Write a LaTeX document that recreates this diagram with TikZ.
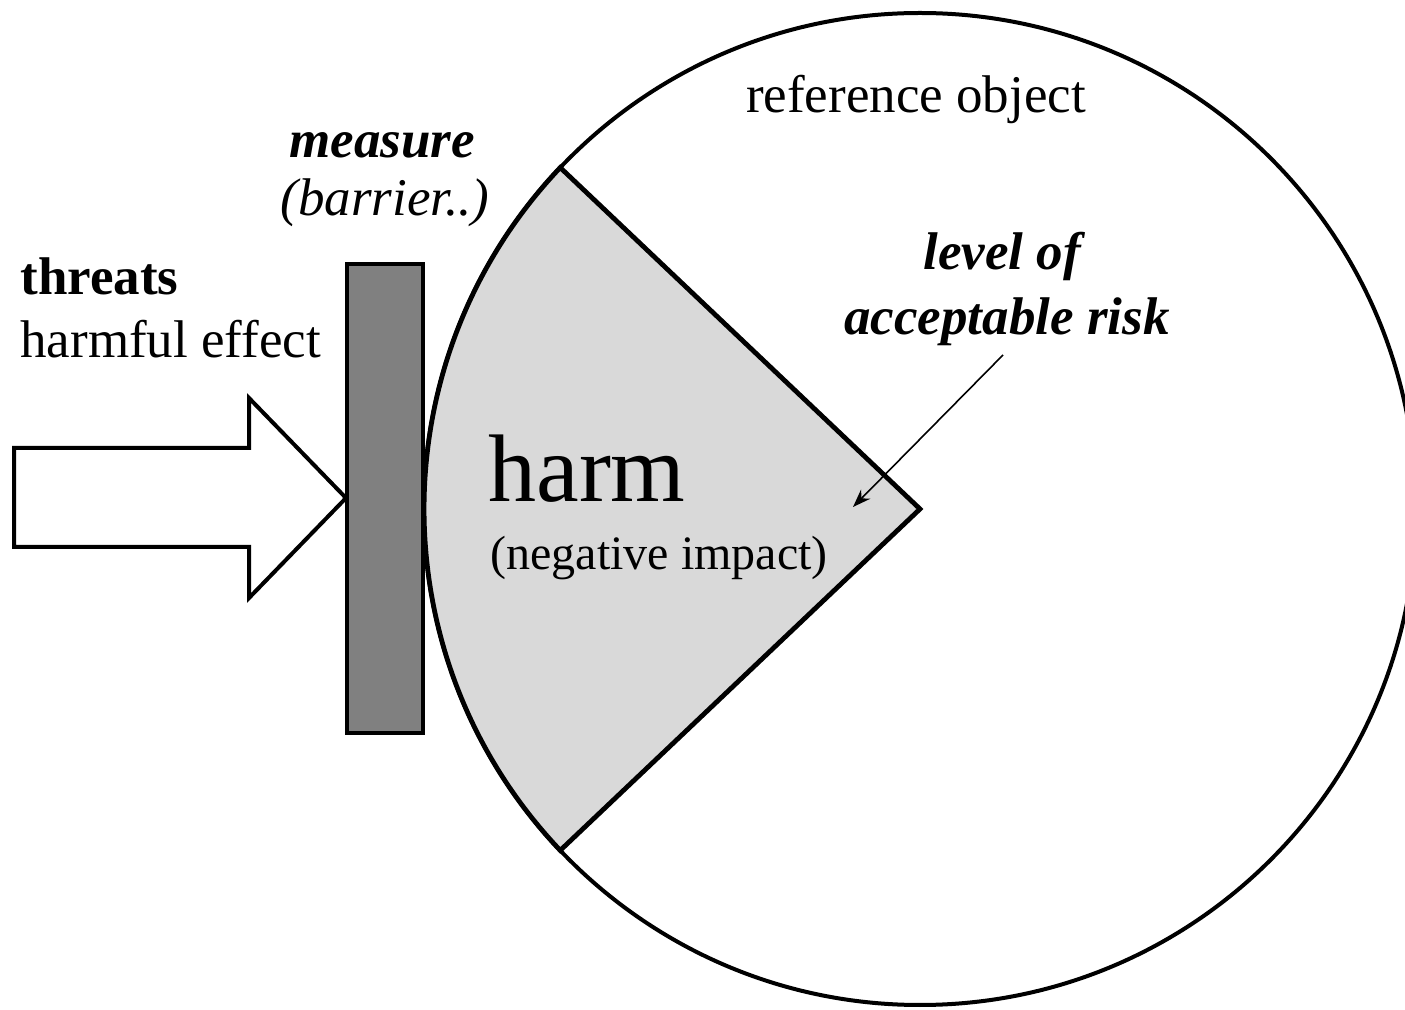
\documentclass[tikz,border=0pt]{standalone}
\usepackage{fontspec}
\setmainfont{Liberation Serif}
\usetikzlibrary{arrows.meta}
\definecolor{barfill}{HTML}{808080}
\definecolor{harmfill}{HTML}{D9D9D9}
\begin{document}
\begin{tikzpicture}[x=0.5pt,y=-0.5pt,
  txt/.style={inner sep=0pt, font=\fontsize{26.5}{30}\selectfont},
  txtb/.style={inner sep=0pt, font=\fontsize{26.5}{30}\selectfont\bfseries},
  txti/.style={inner sep=0pt, font=\fontsize{26.5}{30}\selectfont\itshape},
  txtbi/.style={inner sep=0pt, font=\fontsize{26.5}{30}\selectfont\bfseries\itshape},
  outline/.style={line width=2pt, draw=black}]
\useasboundingbox (0,0) rectangle (1405,1010);
\coordinate (c) at (920,509);
% reference object circle
\draw[outline, fill=white] (c) circle[radius=248pt];
% harm wedge
\draw[line width=2.4pt, fill=harmfill] (c) -- ++(136.5:248pt) arc[start angle=136.5, end angle=223.5, radius=248pt] -- cycle;
% barrier
\draw[outline, fill=barfill] (347,264) rectangle (423,733);
% threat block arrow
\draw[outline, fill=white] (14,448) -- (249,448) -- (249,398) -- (346,498) -- (249,598) -- (249,547) -- (14,547) -- cycle;
% texts
\node[txt, anchor=base] (refobj) at (916,113) {reference object};
\node[txtbi, anchor=base] (measure) at (382,158) {measure};
\node[txti, anchor=base] (barrier) at (385,216) {(barrier..)};
\node[txtb, anchor=base west] (threats) at (20,295) {threats};
\node[txt, anchor=base west] (effect) at (20,358) {harmful effect};
\node[txtbi, anchor=base] (level) at (1002,270) {level of};
\node[txtbi, anchor=base] (risk) at (1007,335) {acceptable risk};
\node[inner sep=0pt, anchor=base west, font=\fontsize{48}{54}\selectfont] (harm) at (488,502) {harm};
\node[inner sep=0pt, anchor=base west, font=\fontsize{24}{28}\selectfont] (impact) at (490,570) {(negative impact)};
% pointer
\coordinate (ptrstart) at (1003,355);
\coordinate (ptrtip) at (853,507);
\draw[line width=0.8pt, -{Stealth[length=9pt,width=6.5pt]}] (ptrstart) -- (ptrtip);
\end{tikzpicture}
\end{document}
